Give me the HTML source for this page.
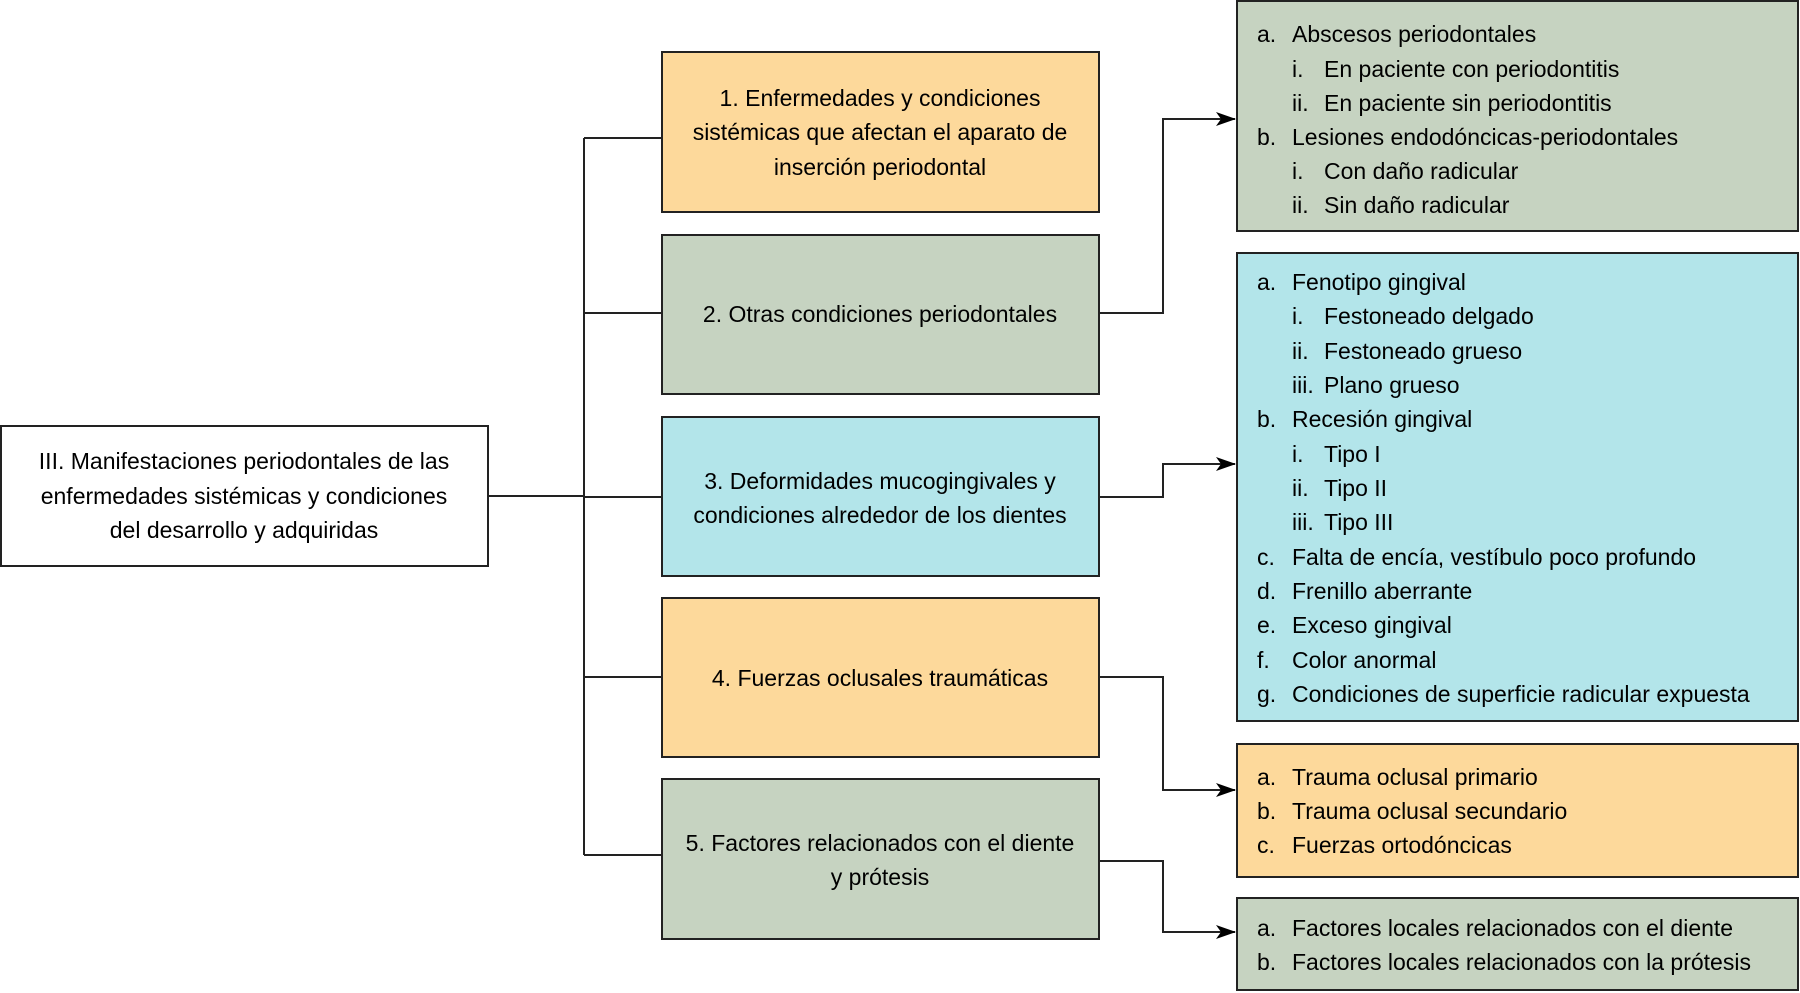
<!DOCTYPE html>
<html><head><meta charset="utf-8"><style>
html,body{margin:0;padding:0;background:#fff;}
svg{display:block;}
text{font-family:"Liberation Sans",sans-serif;font-size:23px;fill:#000;}
</style></head><body>
<svg width="1800" height="993" viewBox="0 0 1800 993">
<defs><marker id="a" markerWidth="20" markerHeight="14" refX="19" refY="7" orient="auto" markerUnits="userSpaceOnUse"><path d="M0,0 L20,7 L0,14 L5,7 Z" fill="#000"/></marker></defs>
<g stroke="#222" stroke-width="2">
<rect x="1" y="426" width="487" height="140" fill="#fff"/>
<rect x="662" y="52" width="437" height="160" fill="#FDD99B"/>
<rect x="662" y="235" width="437" height="159" fill="#C6D3C1"/>
<rect x="662" y="417" width="437" height="159" fill="#B3E5EA"/>
<rect x="662" y="598" width="437" height="159" fill="#FDD99B"/>
<rect x="662" y="779" width="437" height="160" fill="#C6D3C1"/>
<rect x="1237" y="1" width="561" height="230" fill="#C6D3C1"/>
<rect x="1237" y="253" width="561" height="468" fill="#B3E5EA"/>
<rect x="1237" y="744" width="561" height="133" fill="#FDD99B"/>
<rect x="1237" y="898" width="561" height="92" fill="#C6D3C1"/>
</g>
<g stroke="#222" stroke-width="2" fill="none">
<path d="M488,496 H584 M584,138 V855 M584,138 H662 M584,313 H662 M584,497 H662 M584,677 H662 M584,855 H662"/>
<path d="M1099,313 H1163 V119 H1235" marker-end="url(#a)"/>
<path d="M1099,497 H1163 V464 H1235" marker-end="url(#a)"/>
<path d="M1099,677 H1163 V790 H1235" marker-end="url(#a)"/>
<path d="M1099,861 H1163 V932 H1235" marker-end="url(#a)"/>
</g>
<g text-anchor="middle">
<text x="244" y="469">III. Manifestaciones periodontales de las</text>
<text x="244" y="504">enfermedades sistémicas y condiciones</text>
<text x="244" y="538">del desarrollo y adquiridas</text>
<text x="880" y="106">1. Enfermedades y condiciones</text>
<text x="880" y="140">sistémicas que afectan el aparato de</text>
<text x="880" y="175">inserción periodontal</text>
<text x="880" y="322">2. Otras condiciones periodontales</text>
<text x="880" y="489">3. Deformidades mucogingivales y</text>
<text x="880" y="523">condiciones alrededor de los dientes</text>
<text x="880" y="686">4. Fuerzas oclusales traumáticas</text>
<text x="880" y="851">5. Factores relacionados con el diente</text>
<text x="880" y="885">y prótesis</text>
</g>
<g>
<text x="1257" y="42">a.</text><text x="1292" y="42">Abscesos periodontales</text>
<text x="1292" y="77">i.</text><text x="1324" y="77">En paciente con periodontitis</text>
<text x="1292" y="111">ii.</text><text x="1324" y="111">En paciente sin periodontitis</text>
<text x="1257" y="145">b.</text><text x="1292" y="145">Lesiones endodóncicas-periodontales</text>
<text x="1292" y="179">i.</text><text x="1324" y="179">Con daño radicular</text>
<text x="1292" y="213">ii.</text><text x="1324" y="213">Sin daño radicular</text>

<text x="1257" y="290">a.</text><text x="1292" y="290">Fenotipo gingival</text>
<text x="1292" y="324">i.</text><text x="1324" y="324">Festoneado delgado</text>
<text x="1292" y="359">ii.</text><text x="1324" y="359">Festoneado grueso</text>
<text x="1292" y="393">iii.</text><text x="1324" y="393">Plano grueso</text>
<text x="1257" y="427">b.</text><text x="1292" y="427">Recesión gingival</text>
<text x="1292" y="462">i.</text><text x="1324" y="462">Tipo I</text>
<text x="1292" y="496">ii.</text><text x="1324" y="496">Tipo II</text>
<text x="1292" y="530">iii.</text><text x="1324" y="530">Tipo III</text>
<text x="1257" y="565">c.</text><text x="1292" y="565">Falta de encía, vestíbulo poco profundo</text>
<text x="1257" y="599">d.</text><text x="1292" y="599">Frenillo aberrante</text>
<text x="1257" y="633">e.</text><text x="1292" y="633">Exceso gingival</text>
<text x="1257" y="668">f.</text><text x="1292" y="668">Color anormal</text>
<text x="1257" y="702">g.</text><text x="1292" y="702">Condiciones de superficie radicular expuesta</text>

<text x="1257" y="785">a.</text><text x="1292" y="785">Trauma oclusal primario</text>
<text x="1257" y="819">b.</text><text x="1292" y="819">Trauma oclusal secundario</text>
<text x="1257" y="853">c.</text><text x="1292" y="853">Fuerzas ortodóncicas</text>

<text x="1257" y="936">a.</text><text x="1292" y="936">Factores locales relacionados con el diente</text>
<text x="1257" y="970">b.</text><text x="1292" y="970">Factores locales relacionados con la prótesis</text>
</g>
</svg>
</body></html>
